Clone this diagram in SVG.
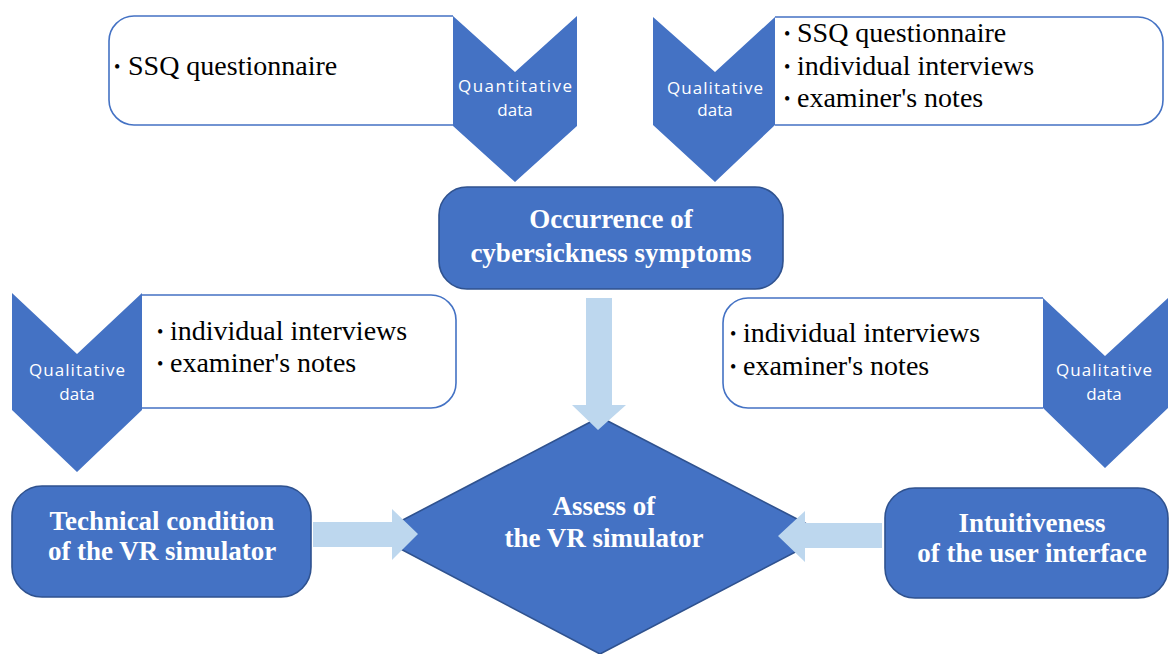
<svg xmlns="http://www.w3.org/2000/svg" width="1170" height="654" viewBox="0 0 1170 654">
<style>
.wbox{fill:#ffffff;stroke:#4472C4;stroke-width:1.6}
.chev{fill:#4472C4}
.node{fill:#4472C4;stroke:#2F528F;stroke-width:1.6}
.arrow{fill:#BDD7EE}
.txt{font-family:"Liberation Serif","Times New Roman","DejaVu Serif",serif;font-size:28px;font-weight:normal;fill:#000000}
.bul{font-family:"Liberation Serif","Times New Roman","DejaVu Serif",serif;font-size:18px;fill:#000000}
.chevt{font-family:"Open Sans","Liberation Sans",Arial,sans-serif;font-size:17px;fill:#ffffff;text-anchor:middle}
.nodet{font-family:"Liberation Serif","Times New Roman",serif;font-size:27px;font-weight:bold;fill:#ffffff;text-anchor:middle}
</style>
<rect width="1170" height="654" fill="#ffffff"/>

<g id="quant-box">
<path class="wbox" d="M453,16 H134 A25,25 0 0 0 109,41 V100 A25,25 0 0 0 134,125 H453"/>
<polygon class="chev" points="453,16 515,72 577,16 577,126 515,182 453,126"/>
<text class="bul" x="114" y="73">•</text>
<text class="txt" x="128" y="75">SSQ questionnaire</text>
<text class="chevt" x="515" y="92" textLength="114" lengthAdjust="spacing">Quantitative</text>
<text class="chevt" x="515" y="116">data</text>
</g>

<g id="qual-box-top">
<path class="wbox" d="M775,17 H1138 A25,25 0 0 1 1163,42 V100 A25,25 0 0 1 1138,125 H775"/>
<polygon class="chev" points="653,17 715,72 775,17 775,125 715,182 653,125"/>
<text class="bul" x="784" y="40">•</text>
<text class="txt" x="797" y="42">SSQ questionnaire</text>
<text class="bul" x="784" y="73">•</text>
<text class="txt" x="797" y="75">individual interviews</text>
<text class="bul" x="784" y="105">•</text>
<text class="txt" x="797" y="107">examiner's notes</text>
<text class="chevt" x="715" y="94" textLength="96" lengthAdjust="spacing">Qualitative</text>
<text class="chevt" x="715" y="116">data</text>
</g>

<g id="occurrence">
<rect class="node" x="439" y="187" width="344" height="102" rx="28"/>
<text class="nodet" x="611" y="228">Occurrence of</text>
<text class="nodet" x="611" y="262">cybersickness symptoms</text>
</g>

<g id="qual-box-left">
<path class="wbox" d="M142,295 H431 A25,25 0 0 1 456,320 V383 A25,25 0 0 1 431,408 H142"/>
<polygon class="chev" points="12,293 77,354 142,293 142,410 77,472 12,410"/>
<text class="bul" x="157" y="338">•</text>
<text class="txt" x="170" y="340">individual interviews</text>
<text class="bul" x="157" y="370">•</text>
<text class="txt" x="170" y="372">examiner's notes</text>
<text class="chevt" x="77" y="376" textLength="96" lengthAdjust="spacing">Qualitative</text>
<text class="chevt" x="77" y="400">data</text>
</g>

<g id="qual-box-right">
<path class="wbox" d="M1043,298 H748 A25,25 0 0 0 723,323 V383 A25,25 0 0 0 748,408 H1043"/>
<polygon class="chev" points="1043,298 1105,356 1168,298 1168,408 1105,468 1043,408"/>
<text class="bul" x="730" y="340">•</text>
<text class="txt" x="743" y="342">individual interviews</text>
<text class="bul" x="730" y="373">•</text>
<text class="txt" x="743" y="375">examiner's notes</text>
<text class="chevt" x="1104" y="376" textLength="96" lengthAdjust="spacing">Qualitative</text>
<text class="chevt" x="1104" y="400">data</text>
</g>

<g id="assess">
<polygon class="node" points="600,417 828,535 600,654 374,535"/>
<text class="nodet" x="604" y="515">Assess of</text>
<text class="nodet" x="604" y="547">the VR simulator</text>
</g>

<g id="technical">
<rect class="node" x="12" y="486" width="299" height="111" rx="30"/>
<text class="nodet" x="162" y="530">Technical condition</text>
<text class="nodet" x="162" y="560">of the VR simulator</text>
</g>

<g id="intuitiveness">
<rect class="node" x="885" y="488" width="283" height="110" rx="30"/>
<text class="nodet" x="1032" y="532">Intuitiveness</text>
<text class="nodet" x="1032" y="562">of the user interface</text>
</g>

<g id="connectors">
<polygon class="arrow" points="586,298 612,298 612,405 626,405 598,430 572,405 586,405"/>
<polygon class="arrow" points="313,522 392,522 392,509 418,534 392,560 392,547 313,547"/>
<polygon class="arrow" points="882,523 805,523 805,511 778,536 805,562 805,548 882,548"/>
</g>
</svg>
